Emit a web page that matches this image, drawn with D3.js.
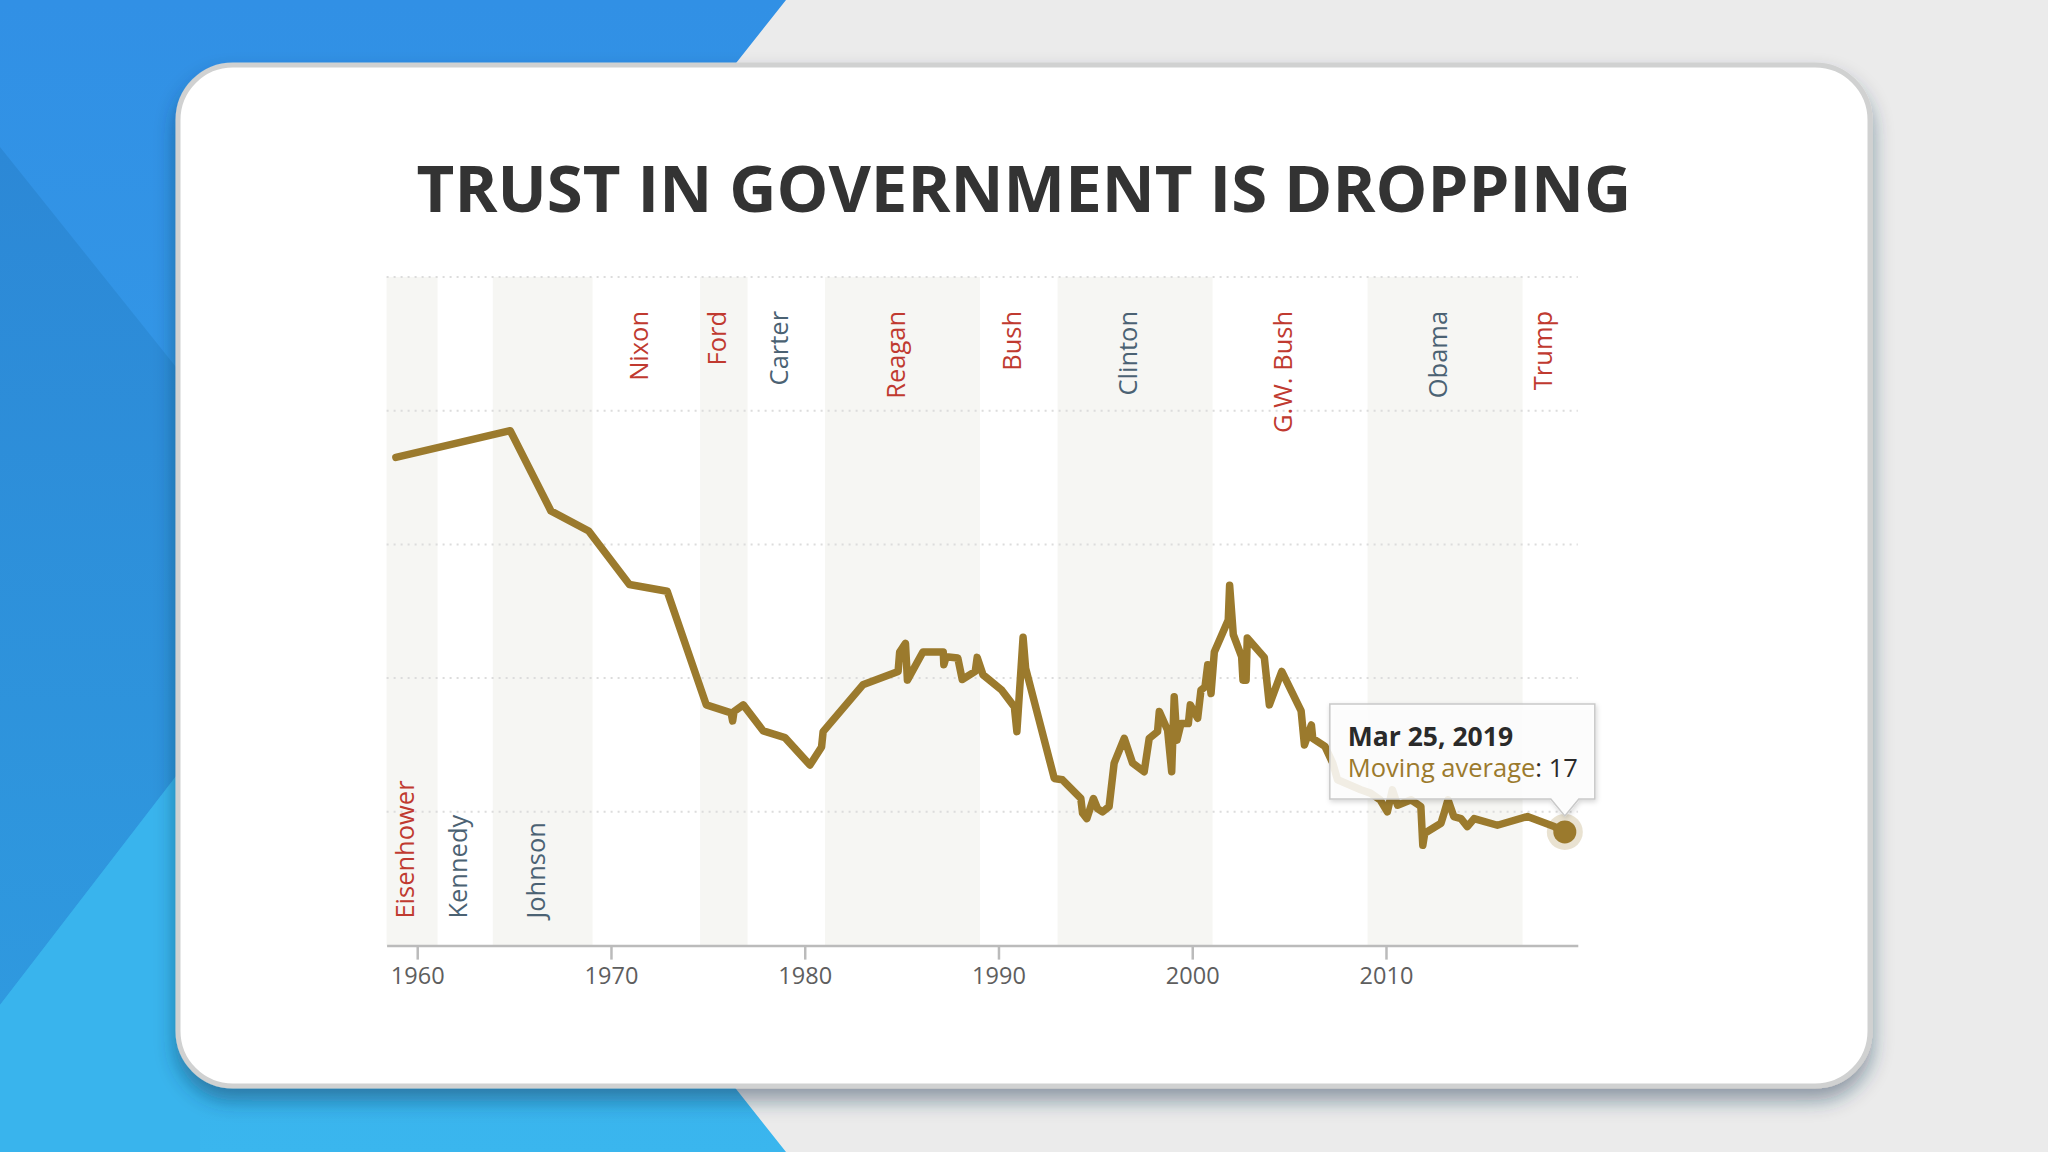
<!DOCTYPE html>
<html>
<head>
<meta charset="utf-8">
<title>Trust in government is dropping</title>
<style>
  body, html { margin: 0; padding: 0; background: #ebebeb; }
  svg { display: block; }
  .band-label { font: 25.5px "Open Sans", sans-serif; }
  .axis text { font: 23.5px "Open Sans", sans-serif; fill: #5e5e5e; }
  .axis path, .axis line { stroke: #bbb; stroke-width: 2.5px; }
  .grid { stroke: #dcdcdc; stroke-width: 2px; stroke-dasharray: 2 5; }
  .trust-line { fill: none; stroke: #9b7a2d; stroke-width: 7.5px; stroke-linejoin: round; stroke-linecap: round; }
</style>
</head>
<body>
<svg id="svg" width="2048" height="1152"></svg>

<script src="https://d3js.org/d3.v7.min.js"></script>
<script>
// Moving average of trust in the federal government (decimal year, percent)
const years = [1958.9, 1964.8, 1966.9, 1968.85, 1970.95, 1972.9, 1974.92, 1976.2, 1976.28, 1976.35,
  1976.83, 1977.86, 1978.98, 1980.27, 1980.87, 1980.95, 1983.0, 1984.82, 1984.9, 1985.2,
  1985.3, 1986.1, 1987.15, 1987.18, 1987.3, 1987.9, 1988.13, 1988.8, 1988.9, 1989.2,
  1990.17, 1990.82, 1990.95, 1991.27, 1991.4, 1992.88, 1993.3, 1994.25, 1994.34, 1994.56,
  1994.9, 1995.11, 1995.37, 1995.71, 1995.97, 1996.49, 1996.92, 1997.52, 1997.78, 1998.21,
  1998.3, 1998.73, 1998.94, 1999.07, 1999.21, 1999.42, 1999.8, 1999.9, 2000.28, 2000.45,
  2000.66, 2000.8, 2000.97, 2001.14, 2001.86, 2001.93, 2002.12, 2002.55, 2002.62, 2002.78,
  2002.84, 2003.72, 2003.98, 2004.62, 2005.62, 2005.79, 2006.15, 2006.22, 2006.85, 2007.25,
  2007.5, 2008.7, 2009.2, 2009.7, 2010.07, 2010.33, 2010.6, 2011.3, 2011.8, 2011.9,
  2012.0, 2012.84, 2013.0, 2013.2, 2013.5, 2013.87, 2014.2, 2014.55, 2015.75, 2017.3,
  2018.68, 2019.23]
const trust = [73, 77, 65, 62, 54, 53, 36, 34.8, 33.6, 35,
  36, 32.1, 31.1, 27, 29.7, 32, 39, 41, 43.9, 45.2,
  39.7, 43.9, 43.9, 42, 43.2, 43, 39.8, 41, 43.1, 40.5,
  38.2, 35.7, 32, 46.1, 41.5, 25, 24.8, 22, 19.8, 19,
  22, 20.5, 20, 20.8, 27.3, 31, 27.3, 26, 31, 32,
  35, 32.2, 26, 37.2, 30.7, 33.2, 33.2, 36, 34, 38.2,
  38.7, 42, 37.7, 43.9, 48.7, 53.9, 46.5, 43.2, 39.7, 39.7,
  46, 43.1, 36, 41, 35.1, 30, 33, 31, 29.8, 27.3,
  24.8, 23.3, 22.8, 21.8, 20, 23.3, 21, 21.8, 20.8, 15,
  16.8, 18.3, 19.8, 21.8, 19.3, 19, 17.8, 19, 18, 19.3,
  17.8, 17]

// Presidents, start of each term (decimal year) and party
const presidents = ['Eisenhower', 'Kennedy', 'Johnson', 'Nixon', 'Ford', 'Carter',
  'Reagan', 'Bush', 'Clinton', 'G.W. Bush', 'Obama', 'Trump']
const termStarts = [1953.05, 1961.05, 1963.9, 1969.05, 1974.6, 1977.05,
  1981.05, 1989.05, 1993.05, 2001.05, 2009.05, 2017.05]
const parties = ['R', 'D', 'D', 'R', 'R', 'D', 'R', 'R', 'D', 'R', 'D', 'R']
const labelSides = ['bottom', 'bottom', 'bottom', 'top', 'top', 'top',
  'top', 'top', 'top', 'top', 'top', 'top']

const tickYears = [1960, 1970, 1980, 1990, 2000, 2010]
const gridValues = [20, 40, 60, 80, 100]

const tooltipDate = 'Mar 25, 2019'
const tooltipLabel = 'Moving average'

const partyColor = { R: '#c03a30', D: '#4b6273' }
const lineColor = '#9b7a2d'

const svg = d3.select('#svg')
const defs = svg.append('defs')

// ---------- background ----------
const blueGrad = defs.append('linearGradient').attr('id', 'blue')
  .attr('x1', 0).attr('y1', 0).attr('x2', 0).attr('y2', 1)
blueGrad.append('stop').attr('offset', 0).attr('stop-color', '#3190e5')
blueGrad.append('stop').attr('offset', 0.4).attr('stop-color', '#3397e6')
blueGrad.append('stop').attr('offset', 0.8).attr('stop-color', '#37adec')
blueGrad.append('stop').attr('offset', 1).attr('stop-color', '#3ab6ee')

const facetGrad = defs.append('linearGradient').attr('id', 'facet')
  .attr('x1', 0).attr('y1', 0).attr('x2', 0).attr('y2', 1)
facetGrad.append('stop').attr('offset', 0).attr('stop-color', '#2c88d6')
facetGrad.append('stop').attr('offset', 1).attr('stop-color', '#2f99df')

svg.append('rect').attr('width', 2048).attr('height', 1152).attr('fill', '#ebebeb')
svg.append('path').attr('fill', 'url(#blue)')
  .attr('d', 'M0,0 L786,0 L330,576 L786,1152 L0,1152 Z')
svg.append('path').attr('fill', 'url(#facet)')
  .attr('d', 'M0,147 L200,397 L200,745 L0,1005 Z')
svg.append('path').attr('fill', '#39b4ed')
  .attr('d', 'M0,1005 L200,745 L200,1152 L0,1152 Z')

// ---------- card ----------
const shadow = defs.append('filter').attr('id', 'cardShadow')
  .attr('x', '-10%').attr('y', '-10%').attr('width', '120%').attr('height', '130%')
shadow.append('feDropShadow').attr('dx', 0).attr('dy', 12).attr('stdDeviation', 10)
  .attr('flood-color', '#1a3550').attr('flood-opacity', 0.45)

svg.append('rect')
  .attr('x', 178).attr('y', 65).attr('width', 1692).attr('height', 1021)
  .attr('rx', 55).attr('ry', 55)
  .attr('fill', '#fff').attr('stroke', '#d0d1d1').attr('stroke-width', 5)
  .attr('filter', 'url(#cardShadow)')

// title, fitted to the width seen in the picture
const title = svg.append('text')
  .attr('x', 1024).attr('y', 212)
  .attr('text-anchor', 'middle')
  .style('font-family', '"Open Sans", sans-serif')
  .style('font-weight', 700)
  .style('font-size', '72px')
  .attr('fill', '#333')
  .text('TRUST IN GOVERNMENT IS DROPPING')
const tw = title.node().getComputedTextLength()
title.style('font-size', (72 * 1215 / tw) + 'px')

// ---------- chart ----------
const x = d3.scaleLinear().domain([1958.42, 2019.9]).range([386.6, 1577.8])
const y = d3.scaleLinear().domain([0, 100]).range([945.6, 276.9])

const g = svg.append('g')

// president bands
const bands = presidents.map((name, i) => ({
  name,
  party: parties[i],
  side: labelSides[i],
  start: Math.max(termStarts[i], x.domain()[0]),
  end: i < presidents.length - 1 ? termStarts[i + 1] : x.domain()[1],
  shaded: i % 2 === 0
}))

g.selectAll('.band')
  .data(bands.filter(d => d.shaded))
  .enter().append('rect')
  .attr('class', 'band')
  .attr('x', d => x(d.start))
  .attr('width', d => x(d.end) - x(d.start))
  .attr('y', y(100))
  .attr('height', y(0) - y(100))
  .attr('fill', '#f6f6f3')

// dotted grid lines
g.selectAll('.grid')
  .data(gridValues)
  .enter().append('line')
  .attr('class', 'grid')
  .attr('x1', x.range()[0]).attr('x2', x.range()[1])
  .attr('y1', d => y(d)).attr('y2', d => y(d))

// president names, rotated
g.selectAll('.band-label')
  .data(bands)
  .enter().append('text')
  .attr('class', 'band-label')
  .attr('transform', d => {
    const cx = (x(d.start) + x(d.end)) / 2 + 2
    const cy = d.side === 'top' ? y(100) + 34 : y(0) - 27
    return `translate(${cx},${cy}) rotate(-90)`
  })
  .attr('text-anchor', d => d.side === 'top' ? 'end' : 'start')
  .attr('fill', d => partyColor[d.party])
  .text(d => d.name)

// x axis
g.append('g')
  .attr('class', 'axis')
  .attr('transform', `translate(0,${y(0)})`)
  .call(d3.axisBottom(x)
    .tickValues(tickYears)
    .tickFormat(d3.format('d'))
    .tickSize(14)
    .tickSizeOuter(0)
    .tickPadding(8))

// the moving average line
const points = years.map((yr, i) => ({ year: yr, value: trust[i] }))
const line = d3.line().x(d => x(d.year)).y(d => y(d.value))

g.append('path')
  .datum(points)
  .attr('class', 'trust-line')
  .attr('d', line)

// highlighted last point
const last = points[points.length - 1]
const px = x(last.year)
const py = y(last.value)
g.append('circle').attr('cx', px).attr('cy', py).attr('r', 18)
  .attr('fill', lineColor).attr('fill-opacity', 0.22)
g.append('circle').attr('cx', px).attr('cy', py).attr('r', 11.5)
  .attr('fill', lineColor)

// tooltip
const tipShadow = defs.append('filter').attr('id', 'tipShadow')
  .attr('x', '-10%').attr('y', '-20%').attr('width', '125%').attr('height', '150%')
tipShadow.append('feDropShadow').attr('dx', 1).attr('dy', 2).attr('stdDeviation', 2.5)
  .attr('flood-color', '#000').attr('flood-opacity', 0.18)

const tipLeft = px - 235
const tipRight = px + 30
const tipTop = py - 128
const tipBottom = py - 33
const tip = g.append('g')
tip.append('path')
  .attr('d', `M${tipLeft},${tipTop} H${tipRight} V${tipBottom} H${px + 14} L${px},${py - 16} L${px - 14},${tipBottom} H${tipLeft} Z`)
  .attr('fill', '#fff').attr('fill-opacity', 0.86)
  .attr('stroke', '#c9c9c9').attr('stroke-width', 1.5)
  .attr('filter', 'url(#tipShadow)')

tip.append('text')
  .attr('x', tipLeft + 18).attr('y', tipTop + 42)
  .style('font', '700 26.5px "Open Sans", sans-serif')
  .attr('fill', '#2a2a2a')
  .text(tooltipDate)

const t2 = tip.append('text')
  .attr('x', tipLeft + 18).attr('y', tipTop + 73)
  .style('font', '25.5px "Open Sans", sans-serif')
t2.append('tspan').attr('fill', lineColor).text(tooltipLabel)
t2.append('tspan').attr('fill', '#2a2a2a').text(': ' + last.value)
</script>
</body>
</html>
